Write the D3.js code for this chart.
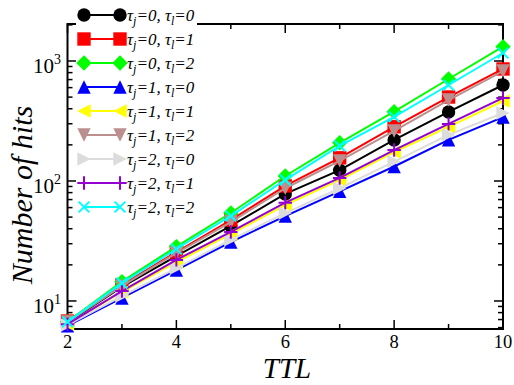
<!DOCTYPE html>
<html><head><meta charset="utf-8">
<script src="https://cdn.jsdelivr.net/npm/d3@7"></script>
<style>body{margin:0;background:#fff}svg{display:block}</style>
</head><body>
<svg id="c" width="514" height="385"></svg>
<script>
// ---- data ----
const ttl = [2, 3, 4, 5, 6, 7, 8, 9, 10];
const xTicks = [2, 4, 6, 8, 10];
const yTicks = [10, 100, 1000];
const yTickExp = ["1", "2", "3"];
const hits_j0_l0 = [6.6, 13.1, 23.7, 42.2, 78, 123, 220, 376, 631];
const hits_j0_l1 = [6.8, 13.6, 25.6, 47.3, 91, 156, 283, 501, 858];
const hits_j0_l2 = [6.7, 14.5, 28.4, 54.1, 110, 208, 378, 708, 1316];
const hits_j1_l0 = [6.2, 10.6, 18.1, 31.0, 51, 82, 132, 220, 341];
const hits_j1_l1 = [6.4, 11.9, 21.1, 36.2, 63, 102, 174, 282, 464];
const hits_j1_l2 = [6.7, 13.3, 25.1, 45.5, 87, 147, 261, 473, 825];
const hits_j2_l0 = [6.3, 11.0, 18.8, 32.3, 54, 87, 145, 242, 369];
const hits_j2_l1 = [6.4, 12.1, 22.0, 37.6, 66, 106, 181, 299, 492];
const hits_j2_l2 = [6.7, 14.1, 27.1, 51.1, 102, 196, 343, 631, 1166];
const tauJ = [0, 0, 0, 1, 1, 1, 2, 2, 2];
const tauL = [0, 1, 2, 0, 1, 2, 0, 1, 2];

const seriesValues = [hits_j0_l0, hits_j0_l1, hits_j0_l2, hits_j1_l0, hits_j1_l1, hits_j1_l2, hits_j2_l0, hits_j2_l1, hits_j2_l2];
const styles = [
  {color: "#000000", shape: "circle"},
  {color: "#ff0000", shape: "square"},
  {color: "#00ff00", shape: "diamond"},
  {color: "#0000ff", shape: "tup"},
  {color: "#ffff00", shape: "tleft"},
  {color: "#bc8f8f", shape: "tdown"},
  {color: "#dcdcdc", shape: "tright"},
  {color: "#9400d3", shape: "plus"},
  {color: "#00ffff", shape: "cross"}
];

// ---- layout ----
const L = 67.5, R = 503, T = 24, B = 329;
const svg = d3.select("#c");
const x = d3.scaleLinear().domain([2, 10]).range([L, R]);
const y = d3.scaleLog().domain([5.84, 2034]).range([B, T]);
const serif = "'Liberation Serif','Times New Roman',serif";

// minor ticks
const minorY = [];
for (let d = 1; d <= 1000; d *= 10) for (let k = 2; k <= 9; k++) {
  const v = k * d; if (v >= 5.84 && v <= 2034) minorY.push(v);
}
const minorX = [3, 5, 7, 9];

const axG = svg.append("g").attr("stroke", "#000").attr("stroke-width", 1.5);
yTicks.forEach(v => {
  axG.append("line").attr("x1", L).attr("x2", L + 9).attr("y1", y(v)).attr("y2", y(v));
  axG.append("line").attr("x1", R).attr("x2", R - 9).attr("y1", y(v)).attr("y2", y(v));
});
minorY.forEach(v => {
  axG.append("line").attr("x1", L).attr("x2", L + 5).attr("y1", y(v)).attr("y2", y(v));
  axG.append("line").attr("x1", R).attr("x2", R - 5).attr("y1", y(v)).attr("y2", y(v));
});
xTicks.forEach(v => {
  axG.append("line").attr("x1", x(v)).attr("x2", x(v)).attr("y1", B).attr("y2", B - 9);
  axG.append("line").attr("x1", x(v)).attr("x2", x(v)).attr("y1", T).attr("y2", T + 9);
});
minorX.forEach(v => {
  axG.append("line").attr("x1", x(v)).attr("x2", x(v)).attr("y1", B).attr("y2", B - 5);
  axG.append("line").attr("x1", x(v)).attr("x2", x(v)).attr("y1", T).attr("y2", T + 5);
});
svg.append("rect").attr("x", L).attr("y", T).attr("width", R - L).attr("height", B - T)
  .attr("fill", "none").attr("stroke", "#000").attr("stroke-width", 2);

// tick labels
xTicks.forEach(v => {
  svg.append("text").attr("x", x(v)).attr("y", 348).attr("text-anchor", "middle")
    .attr("font-family", serif).attr("font-size", 18.5).text(v);
});
yTicks.forEach((v, i) => {
  const t = svg.append("text").attr("x", 61).attr("y", y(v) + 12).attr("text-anchor", "end")
    .attr("font-family", serif).attr("font-size", 21);
  t.append("tspan").text("10");
  t.append("tspan").attr("dy", -9).attr("font-size", 14).text(yTickExp[i]);
});

// axis titles
svg.append("text").attr("x", 287).attr("y", 378).attr("text-anchor", "middle")
  .attr("font-family", serif).attr("font-style", "italic").attr("font-size", 29).text("TTL");
svg.append("text").attr("transform", "translate(32,195) rotate(-90)").attr("text-anchor", "middle")
  .attr("font-family", serif).attr("font-style", "italic").attr("font-size", 30).text("Number of hits");

// marker path
function markerPath(shape, s) {
  switch (shape) {
    case "circle": return d3.symbol(d3.symbolCircle, Math.PI * s * s)();
    case "square": return `M${-s},${-s}H${s}V${s}H${-s}Z`;
    case "diamond": { const d = s * 1.15; return `M0,${-d}L${d},0L0,${d}L${-d},0Z`; }
    case "tup": return `M0,${-s}L${s},${s}L${-s},${s}Z`;
    case "tdown": return `M0,${s}L${s},${-s}L${-s},${-s}Z`;
    case "tleft": return `M${-s},0L${s},${-s}L${s},${s}Z`;
    case "tright": return `M${s},0L${-s},${-s}L${-s},${s}Z`;
    case "plus": return `M${-s},0H${s}M0,${-s}V${s}`;
    case "cross": { const d = s * 0.8; return `M${-d},${-d}L${d},${d}M${-d},${d}L${d},${-d}`; }
  }
}
function drawMarker(g, st, cx, cy, s) {
  const stroked = st.shape === "plus" || st.shape === "cross";
  g.append("path").attr("d", markerPath(st.shape, s)).attr("transform", `translate(${cx},${cy})`)
    .attr("fill", stroked ? "none" : st.color)
    .attr("stroke", stroked ? st.color : "none").attr("stroke-width", 2);
}

// series
const plot = svg.append("g");
const line = d3.line().x((d, i) => x(ttl[i])).y(d => y(d));
seriesValues.forEach((vals, si) => {
  const st = styles[si];
  plot.append("path").attr("d", line(vals)).attr("fill", "none").attr("stroke", st.color).attr("stroke-width", 2);
  vals.forEach((v, i) => drawMarker(plot, st, x(ttl[i]), y(v), 6.7));
});

// legend
const lg = svg.append("g");
lg.append("rect").attr("x", 76).attr("y", 2).attr("width", 121).attr("height", 216).attr("fill", "#fff");
seriesValues.forEach((vals, si) => {
  const st = styles[si];
  const cy = 15 + 24 * si;
  lg.append("line").attr("x1", 84).attr("x2", 120).attr("y1", cy).attr("y2", cy)
    .attr("stroke", st.color).attr("stroke-width", 2);
  drawMarker(lg, st, 84, cy, 6.7);
  drawMarker(lg, st, 120, cy, 6.7);
  const t = lg.append("text").attr("x", 127).attr("y", cy + 6)
    .attr("font-family", serif).attr("font-style", "italic").attr("font-size", 17);
  t.append("tspan").text("τ");
  t.append("tspan").attr("dy", 4).attr("font-size", 12).text("j");
  t.append("tspan").attr("dy", -4).text("=" + tauJ[si] + ", τ");
  t.append("tspan").attr("dy", 4).attr("font-size", 12).text("l");
  t.append("tspan").attr("dy", -4).text("=" + tauL[si]);
});
</script>
</body></html>
